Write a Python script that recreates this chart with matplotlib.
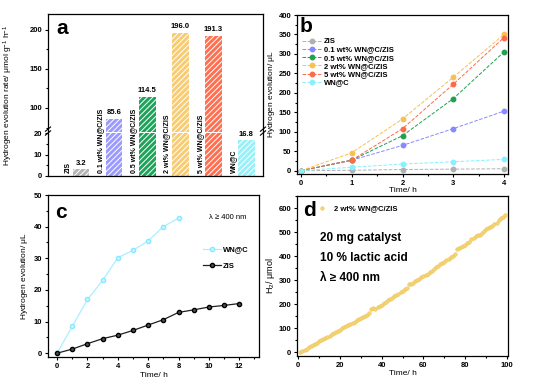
import matplotlib
matplotlib.use("Agg")
import matplotlib.pyplot as plt
from matplotlib.lines import Line2D
from matplotlib.ticker import MultipleLocator

plt.rcParams['font.family'] = ['Liberation Sans', 'DejaVu Sans']
plt.rcParams['font.size'] = 5.5
plt.rcParams['font.weight'] = 'bold'
plt.rcParams['axes.linewidth'] = 0.9
plt.rcParams['hatch.linewidth'] = 0.7
plt.rcParams['mathtext.default'] = 'regular'

# ---- panel a: rates ----
bar_names = ["ZIS", "0.1 wt% WN@C/ZIS", "0.5 wt% WN@C/ZIS",
             "2 wt% WN@C/ZIS", "5 wt% WN@C/ZIS", "WN@C"]
bar_rates = [3.2, 85.6, 114.5, 196.0, 191.3, 16.8]
bar_colors = ["#b4b4b4", "#9a9aff", "#1fa35a", "#f8cc72", "#ff7052", "#98f0f8"]

# ---- panel b: time course (h) ----
b_time = [0, 1, 2, 3, 4]
b_series = {
    "ZIS": [0, 1, 3, 4, 5],
    "0.1 wt% WN@C/ZIS": [0, 27, 65, 108, 153],
    "0.5 wt% WN@C/ZIS": [0, 27, 90, 185, 305],
    "2 wt% WN@C/ZIS": [0, 46, 133, 240, 350],
    "5 wt% WN@C/ZIS": [0, 27, 108, 222, 342],
    "WN@C": [0, 9, 17, 23, 29],
}
b_colors = ["#b0b0b0", "#8888ff", "#20a050", "#f8c050", "#ff6a48", "#88f0ff"]

# ---- panel c ----
c_time_wnc = [0, 1, 2, 3, 4, 5, 6, 7, 8]
c_wnc = [0, 8.5, 17, 23, 30.2, 32.5, 35.5, 40, 42.7]
c_time_zis = [0, 1, 2, 3, 4, 5, 6, 7, 8, 9, 10, 11, 12]
c_zis = [0, 1.3, 3.0, 4.6, 5.7, 7.2, 8.9, 10.6, 12.9, 13.7, 14.6, 15.1, 15.7]

# ---- panel d: long-term run ----
d_time = list(range(1, 100))
d_h2 = [2, 6, 11, 16, 21, 26, 31, 36, 41, 47,
        50, 55, 60, 65, 70, 75, 80, 85, 90, 95,
        100, 104, 109, 114, 119, 123, 128, 133, 138, 142,
        147, 152, 157, 163, 181, 183, 182, 190, 193, 199,
        205, 211, 217, 222, 228, 233, 239, 245, 251, 257,
        262, 268, 283, 286, 290, 296, 301, 307, 312, 317,
        322, 328, 334, 340, 348, 355, 360, 366, 372, 378,
        383, 390, 396, 402, 410, 430, 434, 438, 443, 448,
        454, 460, 470, 478, 483, 487, 490, 498, 506, 513,
        518, 524, 528, 533, 540, 550, 558, 565, 572]

W, H = 533, 389
fig = plt.figure(figsize=(W / 100, H / 100), dpi=100)


def px_axes(left, top, right, bottom):
    return fig.add_axes([left / W, 1 - bottom / H, (right - left) / W, (bottom - top) / H])


def style(ax):
    ax.tick_params(which='both', direction='out', width=0.8, labelsize=5.5, pad=1.5)
    ax.tick_params(which='major', length=2.5)
    ax.tick_params(which='minor', length=1.5)
    ax.tick_params(top=False, right=False)


# ================= a =================
ax_hi = px_axes(48, 14, 263, 131.5)
ax_lo = px_axes(48, 133, 263, 176)
xs = list(range(1, len(bar_rates) + 1))
for ax in (ax_hi, ax_lo):
    ax.bar(xs, bar_rates, width=0.5, color=bar_colors, edgecolor='white',
           hatch='//////', linewidth=0)
    ax.set_xlim(0, 6.5)
    ax.set_xticks([])
    style(ax)
ax_hi.set_ylim(70, 220)
ax_hi.yaxis.set_major_locator(MultipleLocator(50))
ax_hi.yaxis.set_minor_locator(MultipleLocator(25))
ax_hi.spines['bottom'].set_visible(False)
ax_lo.set_ylim(0, 20)
ax_lo.yaxis.set_major_locator(MultipleLocator(10))
ax_lo.yaxis.set_minor_locator(MultipleLocator(5))
ax_lo.spines['top'].set_visible(False)

for x, v, name in zip(xs, bar_rates, bar_names):
    target = ax_hi if v > 20 else ax_lo
    target.text(x, v + (4 if v > 20 else 1), f"{v:.1f}", ha='center', va='bottom', fontsize=5.5)
    ax_lo.text(x - 0.4, 1.2, name, rotation=90, ha='center', va='bottom',
               fontsize=5, clip_on=False)

# break marks
for xa in (0, 1):
    for dy in (0, 0.09):
        ax_lo.plot([xa - 0.012, xa + 0.012], [1.0 + dy - 0.05, 1.0 + dy + 0.05],
                   transform=ax_lo.transAxes, color='black', lw=0.8, clip_on=False)

fig.text(8 / W, 1 - 95 / H, r"Hydrogen evolution rate/ $\mu$mol g$^{-1}$ h$^{-1}$",
         rotation=90, ha='center', va='center', fontsize=6, fontweight='normal')
fig.text(56 / W, 1 - 28 / H, "a", fontsize=15, ha='left', va='center')

# ================= b =================
axb = px_axes(297, 15, 508, 174)
for (name, vals), col in zip(b_series.items(), b_colors):
    axb.plot(b_time, vals, ls='--', lw=0.7, color=col, marker='o', ms=3.2,
             markeredgecolor=col, label=name)
axb.set_xlim(-0.08, 4.08)
axb.set_ylim(-8.5, 400)
axb.xaxis.set_major_locator(MultipleLocator(1))
axb.xaxis.set_minor_locator(MultipleLocator(0.5))
axb.yaxis.set_major_locator(MultipleLocator(50))
axb.yaxis.set_minor_locator(MultipleLocator(25))
style(axb)
axb.set_xlabel("Time/ h", fontsize=6, labelpad=0)
axb.set_ylabel(r"Hydrogen evolution/ $\mu$L", fontsize=6, labelpad=1)
axb.legend(loc='upper left', bbox_to_anchor=(0.0, 0.89), frameon=False, fontsize=5.5,
           handlelength=2.4, labelspacing=0.12, borderaxespad=0.3, handletextpad=0.4)
fig.text(300 / W, 1 - 27 / H, "b", fontsize=15, ha='left', va='center')

# ================= c =================
axc = px_axes(48, 195, 259, 357)
axc.plot(c_time_wnc, c_wnc, color='#a8f0ff', lw=0.9, marker='o', ms=3,
         markerfacecolor='#c8f8ff', markeredgecolor='#88e8ff', label='WN@C')
axc.plot(c_time_zis, c_zis, color='#202020', lw=0.9, marker='o', ms=3,
         markerfacecolor='#505050', markeredgecolor='black', label='ZIS')
axc.set_xlim(-0.6, 13.3)
axc.set_ylim(-1.2, 50)
axc.xaxis.set_major_locator(MultipleLocator(2))
axc.xaxis.set_minor_locator(MultipleLocator(1))
axc.yaxis.set_major_locator(MultipleLocator(10))
axc.yaxis.set_minor_locator(MultipleLocator(5))
style(axc)
axc.set_xlabel("Time/ h", fontsize=6, labelpad=2)
axc.set_ylabel(r"Hydrogen evolution/ $\mu$L", fontsize=6, fontweight='normal', labelpad=3)
axc.legend(loc='center left', bbox_to_anchor=(0.7, 0.61), frameon=False, fontsize=5.5,
           handlelength=2.4, labelspacing=1.2, handletextpad=0.3)
axc.text(0.94, 0.86, r"λ ≥ 400 nm", transform=axc.transAxes, ha='right', va='center',
         fontsize=5.5, fontweight='normal')
fig.text(55 / W, 1 - 213 / H, "c", fontsize=15, ha='left', va='center')

# ================= d =================
axd = px_axes(297, 196, 508, 356)
axd.scatter(d_time, d_h2, s=7, color='#f6d474', edgecolors='#e8c050', linewidths=0.3,
            label='2 wt% WN@C/ZIS', zorder=3)
axd.set_xlim(-0.6, 100.5)
axd.set_ylim(-15, 651)
axd.xaxis.set_major_locator(MultipleLocator(20))
axd.xaxis.set_minor_locator(MultipleLocator(10))
axd.yaxis.set_major_locator(MultipleLocator(100))
axd.yaxis.set_minor_locator(MultipleLocator(50))
style(axd)
axd.set_xlabel("Time/ h", fontsize=6, labelpad=1)
axd.set_ylabel(r"H$_2$/ $\mu$mol", fontsize=6.5, labelpad=1)
axd.legend(loc='upper left', bbox_to_anchor=(0.05, 0.99), frameon=False, fontsize=5.5,
           handletextpad=0.6, markerscale=1.0)
for txt, ypx in (("20 mg catalyst", 238), ("10 % lactic acid", 258), ("λ ≥ 400 nm", 278)):
    fig.text(320 / W, 1 - ypx / H, txt, fontsize=8.5, ha='left', va='center')
fig.text(303 / W, 1 - 210 / H, "d", fontsize=15, ha='left', va='center')

fig.savefig("out.png", dpi=100)
